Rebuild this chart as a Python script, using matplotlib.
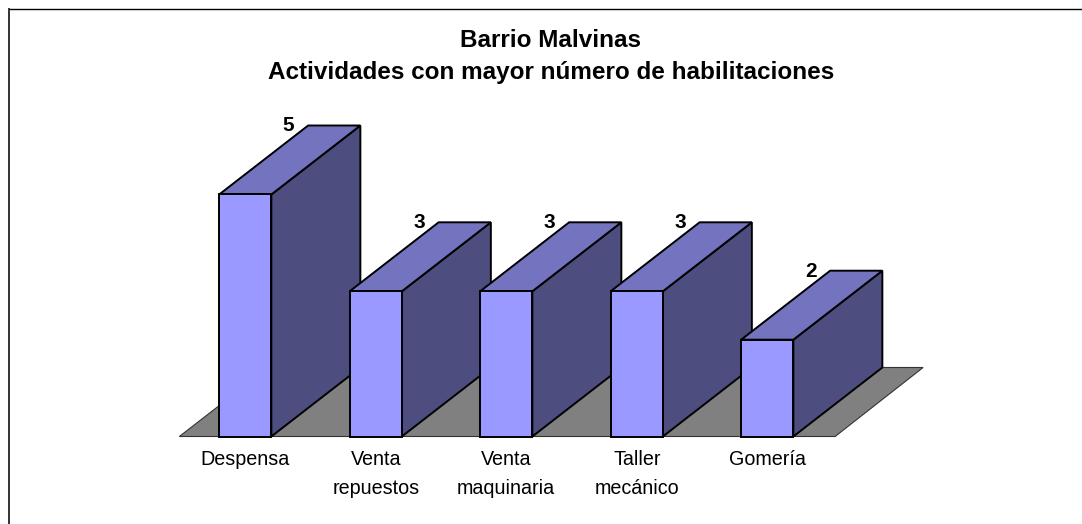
import matplotlib
matplotlib.use("Agg")
import matplotlib.pyplot as plt
from matplotlib.patches import Polygon
from matplotlib.lines import Line2D

categories = ["Despensa", "Venta\nrepuestos", "Venta\nmaquinaria", "Taller\nmecánico", "Gomería"]
values = [5, 3, 3, 3, 2]
title = "Barrio Malvinas\nActividades con mayor número de habilitaciones"

W, H = 1082, 524
plt.rcParams["font.family"] = ["Liberation Sans", "DejaVu Sans"]
fig = plt.figure(figsize=(W / 100, H / 100), dpi=100)
fig.patch.set_facecolor("white")

# Outer frame: only the top and left lines are visible in the crop
fig.add_artist(Line2D([1, 8.5 / W], [1 - 8.5 / H, 1 - 8.5 / H], transform=fig.transFigure,
                      color="black", lw=1.0))
fig.add_artist(Line2D([8.8 / W, 8.8 / W], [1 - 8.5 / H, 0], transform=fig.transFigure,
                      color="#333333", lw=1.4))

# Axes: category / value scales
left, right, base, top5 = 180, 832.5, 436.5, 194.5
ax = fig.add_axes([left / W, 1 - base / H, (right - left) / W, (base - top5) / H])
ax.set_xlim(-0.5, len(values) - 0.5)
ax.set_ylim(0, 5)
ax.axis("off")

DX, DY = 89, 69
BW = 0.40
FRONT, SIDE, TOPC, FLOOR = "#9999FF", "#4D4D80", "#7373BF", "#808080"
EC = "black"
LW = 1.4

# Floor
p_front = ax.transData.transform([(-0.505, 0), (len(values) - 0.48, 0)])
floor = Polygon([p_front[0], p_front[1], p_front[1] + (DX - 1, DY), p_front[0] + (DX, DY)],
                closed=True, transform=None, fc=FLOOR, ec="#333333", lw=0.8, zorder=1)
fig.add_artist(floor)

for i, v in enumerate(values):
    xl, xr = i - BW / 2, i + BW / 2
    bl, br, tr, tl = ax.transData.transform([(xl, 0), (xr, 0), (xr, v), (xl, v)])
    off = (DX, DY)
    z = 3 + i
    side = Polygon([br, br + off, tr + off, tr], closed=True, transform=None, fc=SIDE, ec=EC, lw=LW, joinstyle="miter", zorder=z)
    topf = Polygon([tl, tr, tr + off, tl + off], closed=True, transform=None, fc=TOPC, ec=EC, lw=LW, joinstyle="miter", zorder=z)
    front = Polygon([bl, br, tr, tl], closed=True, transform=None, fc=FRONT, ec=EC, lw=LW, joinstyle="miter", zorder=z)
    for p in (side, topf, front):
        fig.add_artist(p)
    # Value label next to the top back-left corner
    fig.text((tl[0] + off[0] - 19.5) / W, (tl[1] + off[1] - 0.5) / H, str(v), ha="center", va="center",
             fontsize=15, fontweight="bold", color="black", zorder=20)
    # Category label
    cx = ax.transData.transform((i, 0))[0]
    fig.text(cx / W, 1 - 450 / H, categories[i], ha="center", va="top",
             fontsize=14.2, linespacing=1.66, color="black", zorder=20)

fig.text(551 / W, 1 - 56.5 / H, title, ha="center", va="center", fontsize=17.5, fontweight="bold",
         linespacing=1.5, color="black")

fig.savefig("out.png", dpi=100, facecolor="white")
